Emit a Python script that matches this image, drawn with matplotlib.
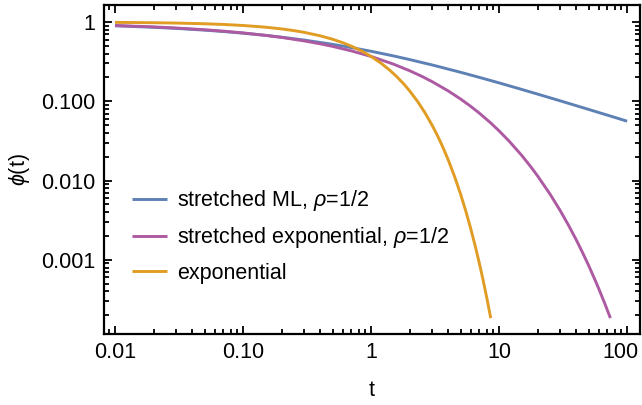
import matplotlib
matplotlib.use("Agg")
import matplotlib.pyplot as plt
from matplotlib.ticker import FixedLocator, FixedFormatter, LogLocator, NullFormatter
from matplotlib.transforms import ScaledTranslation

plt.rcParams['font.family'] = ['Liberation Sans', 'DejaVu Sans']
plt.rcParams['mathtext.fontset'] = 'custom'
plt.rcParams['mathtext.rm'] = 'Liberation Sans'
plt.rcParams['mathtext.it'] = 'Liberation Sans:italic'

# data
t_ml = [0.01, 0.02, 0.03, 0.05, 0.07, 0.1, 0.15, 0.2, 0.3, 0.5, 0.7, 1, 1.5, 2, 3, 5,
        7, 10, 15, 20, 30, 50, 70, 100]
phi_ml = [0.8965, 0.8585, 0.8310, 0.7903, 0.7594, 0.7236, 0.6784, 0.6438, 0.5920,
          0.5231, 0.4767, 0.4276, 0.3733, 0.3362, 0.2874, 0.2323, 0.2004, 0.1707,
          0.1412, 0.1232, 0.1014, 0.0790, 0.06695, 0.0561]

t_se = [0.01, 0.02, 0.03, 0.05, 0.07, 0.1, 0.15, 0.2, 0.3, 0.4, 0.5, 0.7, 1, 1.5, 2,
        2.5, 3, 4, 5, 6, 7, 8.5, 10, 12, 15, 17.5, 20, 25, 30, 35, 40, 45, 50, 55, 60,
        67, 74]
phi_se = [0.9048, 0.8681, 0.8410, 0.7996, 0.7675, 0.7289, 0.6789, 0.6394, 0.5783,
          0.5313, 0.4931, 0.4331, 0.3679, 0.2938, 0.2431, 0.2058, 0.1769, 0.1353,
          0.1069, 0.08636, 0.0710, 0.05419, 0.04232, 0.03130, 0.02080, 0.01525,
          0.01141, 0.006738, 0.004180, 0.002695, 0.001794, 0.001221, 0.000850,
          0.000601, 0.000433, 0.000279, 0.000184]

t_exp = [0.01, 0.02, 0.03, 0.05, 0.07, 0.1, 0.15, 0.2, 0.25, 0.3, 0.4, 0.5, 0.6, 0.7,
         0.8, 0.9, 1.0, 1.2, 1.4, 1.6, 1.8, 2.0, 2.3, 2.6, 3.0, 3.3, 3.6, 4.0, 4.5,
         5.0, 5.5, 6.0, 6.5, 7.0, 7.5, 8.0, 8.6]
phi_exp = [0.9900, 0.9802, 0.9704, 0.9512, 0.9324, 0.9048, 0.8607, 0.8187, 0.7788,
           0.7408, 0.6703, 0.6065, 0.5488, 0.4966, 0.4493, 0.4066, 0.3679, 0.3012,
           0.2466, 0.2019, 0.1653, 0.1353, 0.1003, 0.07427, 0.04979, 0.03688,
           0.02732, 0.01832, 0.01111, 0.006738, 0.004087, 0.002479, 0.001503,
           0.000912, 0.000553, 0.000335, 0.000184]

labels = [r"stretched ML, $\rho$=1/2", r"stretched exponential, $\rho$=1/2", "exponential"]
colors = ["#5E81B5", "#AD5AA2", "#E19C24"]

xticks = [0.01, 0.1, 1, 10, 100]
xticklabels = ["0.01", "0.10", "1", "10", "100"]
yticks = [0.001, 0.01, 0.1, 1]
yticklabels = ["0.001", "0.010", "0.100", "1"]

FS = 15.5

fig = plt.figure(figsize=(6.42, 4.05), dpi=100)
ax = fig.add_axes([104/642, 1-334/405, 536/642, 329/405])

for t, p, lab, c in zip([t_ml, t_se, t_exp], [phi_ml, phi_se, phi_exp], labels, colors):
    ax.plot(t, p, color=c, lw=2.1, label=lab, solid_capstyle='butt',
            solid_joinstyle='round')

ax.set_xscale('log')
ax.set_yscale('log')
ax.set_xlim(0.0082, 126)
ax.set_ylim(1.16e-4, 1.64)

ax.xaxis.set_major_locator(FixedLocator(xticks))
ax.xaxis.set_major_formatter(FixedFormatter(xticklabels))
ax.yaxis.set_major_locator(FixedLocator(yticks))
ax.yaxis.set_major_formatter(FixedFormatter(yticklabels))
ax.xaxis.set_minor_locator(LogLocator(base=10, subs=range(2, 10), numticks=20))
ax.yaxis.set_minor_locator(LogLocator(base=10, subs=range(2, 10), numticks=20))
ax.xaxis.set_minor_formatter(NullFormatter())
ax.yaxis.set_minor_formatter(NullFormatter())

ax.tick_params(which='both', direction='in', top=True, right=True, width=1.3,
               labelsize=FS, colors='black')
ax.tick_params(which='major', length=6, pad=6)
ax.tick_params(which='minor', length=3.5)
for s in ax.spines.values():
    s.set_linewidth(1.6)

ax.set_xlabel("t", fontsize=FS, labelpad=12)
ax.set_ylabel(r"$\phi$(t)", fontsize=FS, labelpad=7)

ax.legend(loc='center left', bbox_to_anchor=(132/642, 1-236/405),
          bbox_transform=fig.transFigure, frameon=False, fontsize=FS,
          handlelength=1.63, handletextpad=0.47, labelspacing=0.57,
          borderpad=0, borderaxespad=0)

# keep the last x tick label inside the figure
fig.canvas.draw()
last = ax.get_xticklabels()[-1]
last.set_transform(last.get_transform() + ScaledTranslation(-0.07, 0, fig.dpi_scale_trans))

fig.savefig("out.png", dpi=100)
